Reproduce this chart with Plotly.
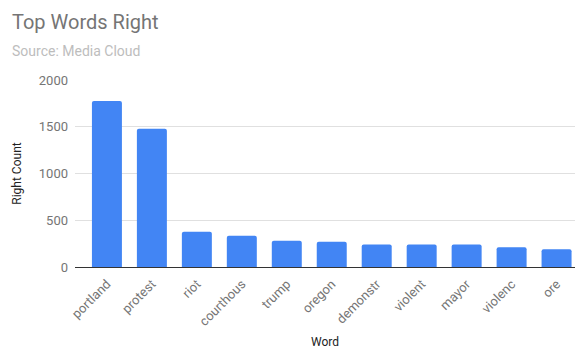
import plotly.graph_objects as go

words = ["portland", "protest", "riot", "courthous", "trump", "oregon",
         "demonstr", "violent", "mayor", "violenc", "ore"]
counts = [1775, 1479, 378, 335, 282, 269, 241, 241, 240, 212, 191]
y_ticks = [0, 500, 1000, 1500, 2000]

fig = go.Figure(go.Bar(
    x=list(range(len(words))), y=counts,
    marker=dict(color="#4285F4", cornerradius=2, line=dict(width=0)),
))

fig.update_layout(
    width=581, height=349,
    margin=dict(l=75, r=6, t=80, b=82),
    paper_bgcolor="white", plot_bgcolor="white",
    font=dict(family="Roboto", color="#444"),
    bargap=0.333,
    showlegend=False,
)
fig.add_annotation(text="Top Words Right", xref="paper", yref="paper",
                   x=-65/500, y=1 + (80 - 22) / 187, xanchor="left", yanchor="middle",
                   showarrow=False, font=dict(size=20, color="#757575", family="Roboto"))
fig.add_annotation(text="Source: Media Cloud", xref="paper", yref="paper",
                   x=-65/500, y=1 + (80 - 51) / 187, xanchor="left", yanchor="middle",
                   showarrow=False, font=dict(size=14, color="#bdbdbd", family="Roboto"))

fig.update_yaxes(
    range=[0, 2000], tickvals=y_ticks, ticktext=[str(v) for v in y_ticks],
    showgrid=True, gridcolor="#e0e0e0", gridwidth=1,
    zeroline=True, zerolinecolor="#333333", zerolinewidth=1,
    tickfont=dict(size=13, color="#757575"),
    title=dict(text="Right Count", font=dict(size=12, color="#222"), standoff=14),
    ticks="", ticklabelstandoff=6, automargin=False,
)
fig.update_xaxes(
    range=[-0.71, 10.41],
    tickvals=list(range(len(words))), ticktext=words,
    tickangle=-45, tickfont=dict(size=13, color="#757575"),
    title=dict(text="Word", font=dict(size=12, color="#222"), standoff=14),
    showline=False, ticks="", showgrid=False, zeroline=False, automargin=False,
    ticklabelstandoff=6,
)

fig.write_html("out.html")
